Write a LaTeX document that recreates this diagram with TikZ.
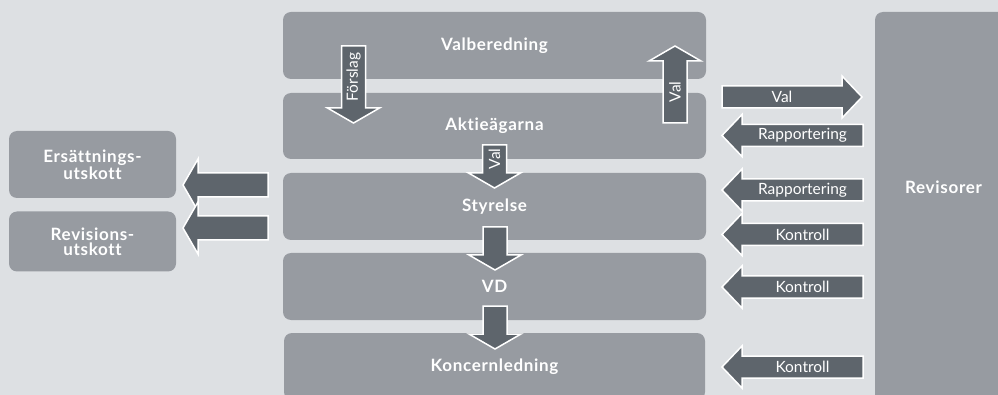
\documentclass[tikz,border=0pt]{standalone}
\usepackage{fontspec}
\setmainfont[RawFeature=-liga]{Lato}
\newfontfamily\boxfont[RawFeature=-liga, LetterSpace=4, BoldFont={Lato Bold}]{Lato}
\usetikzlibrary{calc}

\definecolor{bggray}{HTML}{DDE0E3}
\definecolor{boxgray}{HTML}{979BA1}
\definecolor{arrgray}{HTML}{5E656C}

\tikzset{
  box/.style={fill=boxgray, rounded corners=8pt, text=white, align=center,
    font=\boxfont\bfseries\fontsize{17}{15}\selectfont},
  boxlabel/.style={text=white, font=\boxfont\bfseries\fontsize{17}{15}\selectfont},
  blockarr/.style={fill=arrgray, draw=white, line width=1.5pt},
  arrlabel/.style={text=white, inner sep=0pt, font=\fontsize{15.5}{15.5}\selectfont}
}

% block arrow: [label rotation]{tail}{tip}{label}
\newcommand{\blockarrow}[4][0]{%
  \coordinate (hb) at ($(#3)!\headl!(#2)$);
  \draw[blockarr] ($(#2)!\shaftw!90:(#3)$) -- ($(hb)!\shaftw!90:(#3)$)
    -- ($(hb)!\headw!90:(#3)$) -- (#3) -- ($(hb)!\headw!-90:(#3)$)
    -- ($(hb)!\shaftw!-90:(#3)$) -- ($(#2)!\shaftw!-90:(#3)$) -- cycle;
  \node[arrlabel, rotate=#1] (lbl-#2) at ($(#2)!0.5!(hb)$) {#4};
}

\begin{document}
\begin{tikzpicture}[x=1pt,y=-1pt]
  \fill[bggray] (0,0) rectangle (998,395);
  \useasboundingbox (0,0) rectangle (998,395);

  % main column
  \node[box, minimum width=423pt, minimum height=67pt] (valb) at (494.5,45.5) {Valberedning};
  \node[box, minimum width=423pt, minimum height=66pt] (aktie) at (494.5,126) {Aktieägarna};
  \node[box, minimum width=423pt, minimum height=67pt] (styr) at (494.5,206.5) {Styrelse};
  \node[box, minimum width=423pt, minimum height=67pt] (vd) at (494.5,286.5) {VD};
  \node[box, minimum width=421pt, minimum height=67pt] (konc) at (494.5,366.5) {Koncernledning};

  % committees
  \node[box, minimum width=167pt, minimum height=67pt] (ers) at (92.5,164.5) {Ersättnings-\\utskott};
  \node[box, minimum width=167pt, minimum height=60pt] (revs) at (92.5,241.5) {Revisions-\\utskott};

  % auditors
  \node[box, minimum width=140pt, minimum height=395pt] (revisorer) at (945,209.5) {};
  \node[boxlabel] (revtext) at (943.5,187) {Revisorer};

  % arrow ends
  \coordinate (forsA) at (353.5,46);  \coordinate (forsB) at (353.5,123);
  \coordinate (valA)  at (675,123);   \coordinate (valB)  at (675,46);
  \coordinate (sValA) at (494.5,145); \coordinate (sValB) at (494.5,188);
  \coordinate (vdA)   at (495,227);   \coordinate (vdB)   at (495,270);
  \coordinate (koA)   at (495,306);   \coordinate (koB)   at (495,349);
  \coordinate (ersA)  at (268,185);   \coordinate (ersB)  at (183,185);
  \coordinate (revA)  at (268,228);   \coordinate (revB)  at (183,228);

  \def\shaftw{12pt}\def\headw{26pt}\def\headl{15pt}
  \blockarrow[90]{forsA}{forsB}{Förslag}
  \blockarrow[90]{valA}{valB}{Val}
  \blockarrow[90]{sValA}{sValB}{Val}
  \blockarrow{vdA}{vdB}{}
  \blockarrow{koA}{koB}{}
  \blockarrow{ersA}{ersB}{}
  \blockarrow{revA}{revB}{}

  % to and from the auditors
  \coordinate (rvalA) at (722,97);    \coordinate (rvalB) at (862,97);
  \coordinate (rap1A) at (863,135.5); \coordinate (rap1B) at (722,135.5);
  \coordinate (rap2A) at (863,190);   \coordinate (rap2B) at (722,190);
  \coordinate (kon1A) at (863,234.5); \coordinate (kon1B) at (722,234.5);
  \coordinate (kon2A) at (863,287);   \coordinate (kon2B) at (722,287);
  \coordinate (kon3A) at (863,367);   \coordinate (kon3B) at (722,367);

  \def\shaftw{11pt}\def\headw{21pt}\def\headl{20pt}
  \blockarrow{rvalA}{rvalB}{Val}
  \blockarrow{rap1A}{rap1B}{Rapportering}
  \blockarrow{rap2A}{rap2B}{Rapportering}
  \blockarrow{kon1A}{kon1B}{Kontroll}
  \blockarrow{kon2A}{kon2B}{Kontroll}
  \blockarrow{kon3A}{kon3B}{Kontroll}
\end{tikzpicture}
\end{document}
